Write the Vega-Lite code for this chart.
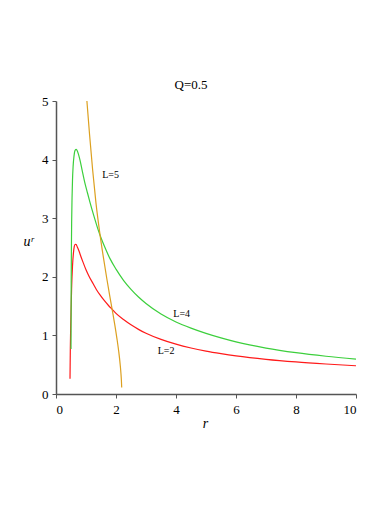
{
  "$schema": "https://vega.github.io/schema/vega-lite/v6.json",
  "autosize": "none",
  "width": 300,
  "height": 293,
  "padding": {"left": 56, "top": 101, "right": 36, "bottom": 114},
  "background": "white",
  "config": {"view": {"stroke": null}, "font": "Liberation Serif"},
  "title": {"text": "Q=0.5", "font": "Liberation Serif", "fontSize": 13, "fontWeight": "normal", "color": "#000", "anchor": "middle", "dx": -15, "offset": 3},
  "layer": [
    {
      "data": {"values": [
        {"r": 0.467, "u": 0.26, "L": "L=2"},
        {"r": 0.478, "u": 0.80, "L": "L=2"},
        {"r": 0.49, "u": 1.15, "L": "L=2"},
        {"r": 0.5, "u": 1.37, "L": "L=2"},
        {"r": 0.52, "u": 1.80, "L": "L=2"},
        {"r": 0.55, "u": 2.18, "L": "L=2"},
        {"r": 0.58, "u": 2.40, "L": "L=2"},
        {"r": 0.61, "u": 2.52, "L": "L=2"},
        {"r": 0.64, "u": 2.555, "L": "L=2"},
        {"r": 0.67, "u": 2.55, "L": "L=2"},
        {"r": 0.71, "u": 2.51, "L": "L=2"},
        {"r": 0.76, "u": 2.45, "L": "L=2"},
        {"r": 0.8, "u": 2.39, "L": "L=2"},
        {"r": 0.9, "u": 2.25, "L": "L=2"},
        {"r": 1.0, "u": 2.12, "L": "L=2"},
        {"r": 1.1, "u": 2.01, "L": "L=2"},
        {"r": 1.24, "u": 1.88, "L": "L=2"},
        {"r": 1.35, "u": 1.78, "L": "L=2"},
        {"r": 1.467, "u": 1.69, "L": "L=2"},
        {"r": 1.6, "u": 1.6, "L": "L=2"},
        {"r": 1.75, "u": 1.51, "L": "L=2"},
        {"r": 1.88, "u": 1.44, "L": "L=2"},
        {"r": 2.0, "u": 1.375, "L": "L=2"},
        {"r": 2.25, "u": 1.27, "L": "L=2"},
        {"r": 2.5, "u": 1.18, "L": "L=2"},
        {"r": 2.75, "u": 1.103, "L": "L=2"},
        {"r": 3.0, "u": 1.037, "L": "L=2"},
        {"r": 3.5, "u": 0.932, "L": "L=2"},
        {"r": 4.0, "u": 0.85, "L": "L=2"},
        {"r": 4.5, "u": 0.785, "L": "L=2"},
        {"r": 5.0, "u": 0.733, "L": "L=2"},
        {"r": 5.5, "u": 0.69, "L": "L=2"},
        {"r": 6.0, "u": 0.652, "L": "L=2"},
        {"r": 7.0, "u": 0.592, "L": "L=2"},
        {"r": 8.0, "u": 0.547, "L": "L=2"},
        {"r": 9.0, "u": 0.512, "L": "L=2"},
        {"r": 10.0, "u": 0.482, "L": "L=2"},
        {"r": 0.5, "u": 0.77, "L": "L=4"},
        {"r": 0.503, "u": 1.3, "L": "L=4"},
        {"r": 0.507, "u": 1.9, "L": "L=4"},
        {"r": 0.513, "u": 2.45, "L": "L=4"},
        {"r": 0.522, "u": 2.95, "L": "L=4"},
        {"r": 0.535, "u": 3.35, "L": "L=4"},
        {"r": 0.55, "u": 3.65, "L": "L=4"},
        {"r": 0.57, "u": 3.88, "L": "L=4"},
        {"r": 0.6, "u": 4.06, "L": "L=4"},
        {"r": 0.63, "u": 4.15, "L": "L=4"},
        {"r": 0.667, "u": 4.175, "L": "L=4"},
        {"r": 0.7, "u": 4.16, "L": "L=4"},
        {"r": 0.75, "u": 4.09, "L": "L=4"},
        {"r": 0.8, "u": 3.99, "L": "L=4"},
        {"r": 0.87, "u": 3.82, "L": "L=4"},
        {"r": 0.95, "u": 3.63, "L": "L=4"},
        {"r": 1.05, "u": 3.43, "L": "L=4"},
        {"r": 1.133, "u": 3.27, "L": "L=4"},
        {"r": 1.25, "u": 3.06, "L": "L=4"},
        {"r": 1.4, "u": 2.81, "L": "L=4"},
        {"r": 1.49, "u": 2.68, "L": "L=4"},
        {"r": 1.65, "u": 2.48, "L": "L=4"},
        {"r": 1.8, "u": 2.31, "L": "L=4"},
        {"r": 2.0, "u": 2.13, "L": "L=4"},
        {"r": 2.25, "u": 1.94, "L": "L=4"},
        {"r": 2.5, "u": 1.785, "L": "L=4"},
        {"r": 2.75, "u": 1.655, "L": "L=4"},
        {"r": 3.0, "u": 1.545, "L": "L=4"},
        {"r": 3.5, "u": 1.365, "L": "L=4"},
        {"r": 4.0, "u": 1.23, "L": "L=4"},
        {"r": 4.5, "u": 1.125, "L": "L=4"},
        {"r": 5.0, "u": 1.035, "L": "L=4"},
        {"r": 5.5, "u": 0.958, "L": "L=4"},
        {"r": 6.0, "u": 0.89, "L": "L=4"},
        {"r": 7.0, "u": 0.784, "L": "L=4"},
        {"r": 8.0, "u": 0.705, "L": "L=4"},
        {"r": 9.0, "u": 0.644, "L": "L=4"},
        {"r": 10.0, "u": 0.594, "L": "L=4"},
        {"r": 1.03, "u": 5.0, "L": "L=5"},
        {"r": 1.12, "u": 4.42, "L": "L=5"},
        {"r": 1.22, "u": 3.83, "L": "L=5"},
        {"r": 1.33, "u": 3.27, "L": "L=5"},
        {"r": 1.467, "u": 2.72, "L": "L=5"},
        {"r": 1.58, "u": 2.33, "L": "L=5"},
        {"r": 1.69, "u": 1.98, "L": "L=5"},
        {"r": 1.8, "u": 1.65, "L": "L=5"},
        {"r": 1.88, "u": 1.42, "L": "L=5"},
        {"r": 1.96, "u": 1.18, "L": "L=5"},
        {"r": 2.03, "u": 0.95, "L": "L=5"},
        {"r": 2.09, "u": 0.73, "L": "L=5"},
        {"r": 2.14, "u": 0.5, "L": "L=5"},
        {"r": 2.165, "u": 0.35, "L": "L=5"},
        {"r": 2.18, "u": 0.23, "L": "L=5"},
        {"r": 2.19, "u": 0.11, "L": "L=5"}
      ]},
      "mark": {"type": "line", "strokeWidth": 1.2, "clip": true, "interpolate": "monotone"},
      "encoding": {
        "x": {"field": "r", "type": "quantitative",
          "scale": {"domain": [0, 10], "nice": false, "zero": false},
          "axis": {"values": [0,1,2,3,4,5,6,7,8,9,10],
            "labelExpr": "datum.value % 2 == 0 ? format(datum.value, 'd') : ''",
            "grid": false, "domainColor": "#555", "domainWidth": 1.5,
            "tickColor": "#555", "tickWidth": 1,
            "tickSize": {"condition": {"test": "datum.value % 2 == 0", "value": 4}, "value": 2},
            "labelFont": "Liberation Serif", "labelFontSize": 13, "labelColor": "#000", "labelPadding": 5,
            "title": "r", "titleFont": "Liberation Serif", "titleFontSize": 14, "titleFontStyle": "italic",
            "titleFontWeight": "normal", "titleColor": "#000", "titleY": 29, "titleX": 149, "titleBaseline": "middle"}},
        "y": {"field": "u", "type": "quantitative",
          "scale": {"domain": [0, 5], "nice": false, "zero": false},
          "axis": {"values": [0,0.5,1,1.5,2,2.5,3,3.5,4,4.5,5],
            "labelExpr": "datum.value % 1 == 0 ? format(datum.value, 'd') : ''",
            "grid": false, "domainColor": "#555", "domainWidth": 1.5,
            "tickColor": "#555", "tickWidth": 1,
            "tickSize": {"condition": {"test": "datum.value % 1 == 0", "value": 4}, "value": 2},
            "labelFont": "Liberation Serif", "labelFontSize": 13, "labelColor": "#000", "labelPadding": 4,
            "title": "uʳ", "titleFont": "Liberation Serif", "titleFontSize": 14, "titleFontStyle": "italic",
            "titleFontWeight": "normal", "titleColor": "#000", "titleAngle": 0,
            "titleX": -28, "titleY": 140, "titleAlign": "center", "titleBaseline": "middle"}},
        "color": {"field": "L", "type": "nominal",
          "scale": {"domain": ["L=2", "L=4", "L=5"], "range": ["#ff1a1a", "#3ccf3c", "#dca020"]},
          "legend": null}
      }
    },
    {
      "data": {"values": [
        {"r": 1.82, "u": 3.73, "t": "L=5"},
        {"r": 4.19, "u": 1.36, "t": "L=4"},
        {"r": 3.67, "u": 0.73, "t": "L=2"}
      ]},
      "mark": {"type": "text", "font": "Liberation Serif", "fontSize": 10, "color": "#000", "align": "center", "baseline": "middle"},
      "encoding": {
        "x": {"field": "r", "type": "quantitative"},
        "y": {"field": "u", "type": "quantitative"},
        "text": {"field": "t"}
      }
    }
  ]
}
